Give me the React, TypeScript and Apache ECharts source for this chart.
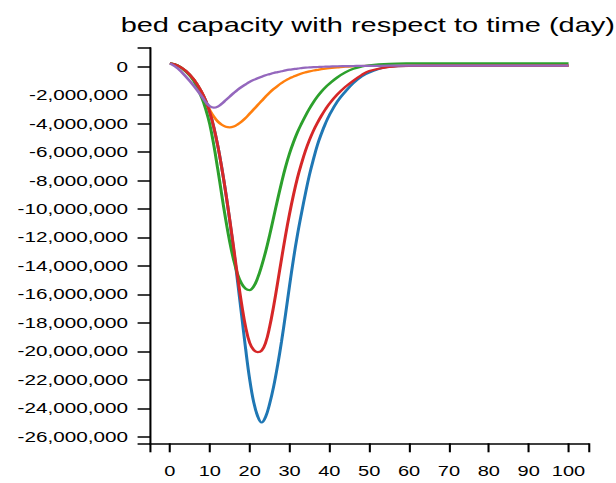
import React, { useEffect, useRef } from "react";
import * as echarts from "echarts";

// Day of simulation for each sample
const days = [
  0, 2, 4, 6, 8, 9, 10, 11, 12, 13, 14, 15, 16, 17, 18, 19, 20, 21, 22, 23, 24,
  25, 26, 27, 28, 29, 30, 31, 32, 33, 34, 35, 36, 37, 38, 39, 40, 42, 44, 46,
  48, 50, 55, 60, 70, 80, 90, 100,
];

// Remaining bed capacity, in millions of beds
const blueSeries = [
  0.24, 0.08, -0.3, -0.9, -1.8, -2.4, -3.2, -4.25, -5.55, -7.1, -8.85, -10.8,
  -12.9, -15.15, -17.5, -19.85, -21.95, -23.55, -24.55, -25.0, -24.6, -23.7,
  -22.5, -21.0, -19.3, -17.4, -15.4, -13.5, -11.8, -10.3, -8.9, -7.6, -6.5,
  -5.5, -4.7, -4.0, -3.4, -2.45, -1.75, -1.15, -0.7, -0.4, 0.0, 0.06, 0.07,
  0.07, 0.07, 0.07,
];
const orangeSeries = [
  0.24, 0.08, -0.3, -0.9, -1.8, -2.45, -3.05, -3.5, -3.85, -4.08, -4.22, -4.26,
  -4.2, -4.05, -3.85, -3.6, -3.3, -3.0, -2.7, -2.4, -2.1, -1.82, -1.57, -1.35,
  -1.15, -0.97, -0.82, -0.7, -0.58, -0.48, -0.4, -0.33, -0.27, -0.22, -0.17,
  -0.13, -0.1, -0.05, 0.0, 0.03, 0.05, 0.06, 0.07, 0.07, 0.07, 0.07, 0.07,
  0.07,
];
const greenSeries = [
  0.24, 0.08, -0.35, -1.0, -2.2, -3.0, -4.05, -5.5, -7.2, -9.0, -10.75, -12.3,
  -13.6, -14.6, -15.25, -15.6, -15.7, -15.45, -14.85, -14.0, -13.0, -11.85,
  -10.6, -9.35, -8.15, -7.05, -6.1, -5.3, -4.6, -4.0, -3.45, -2.95, -2.5, -2.1,
  -1.75, -1.45, -1.2, -0.75, -0.4, -0.15, 0.0, 0.1, 0.2, 0.23, 0.24, 0.24,
  0.24, 0.24,
];
const redSeries = [
  0.24, 0.08, -0.3, -0.9, -1.8, -2.4, -3.2, -4.25, -5.55, -7.1, -8.85, -10.75,
  -12.75, -14.8, -16.7, -18.3, -19.4, -19.9, -20.05, -19.95, -19.4, -18.3,
  -16.85, -15.2, -13.5, -11.85, -10.35, -9.0, -7.8, -6.8, -5.9, -5.15, -4.5,
  -3.95, -3.45, -3.0, -2.6, -1.95, -1.42, -0.98, -0.6, -0.3, -0.02, 0.06, 0.07,
  0.07, 0.07, 0.07,
];
const purpleSeries = [
  0.24, -0.12, -0.7, -1.35, -2.1, -2.5, -2.78, -2.88, -2.8, -2.6, -2.35, -2.1,
  -1.85, -1.62, -1.42, -1.24, -1.07, -0.93, -0.81, -0.7, -0.6, -0.52, -0.44,
  -0.38, -0.32, -0.26, -0.21, -0.17, -0.13, -0.1, -0.07, -0.05, -0.03, -0.02,
  -0.01, 0.0, 0.01, 0.03, 0.04, 0.05, 0.06, 0.06, 0.07, 0.07, 0.07, 0.07, 0.07,
  0.07,
];

const seriesValues = [blueSeries, orangeSeries, greenSeries, redSeries, purpleSeries];
const seriesColors = ["#1f77b4", "#ff7f0e", "#2ca02c", "#d62728", "#9467bd"];

// Axis ticks and labels
const xTickLabels = [0, 10, 20, 30, 40, 50, 60, 70, 80, 90, 100];
const yTickLabels = [
  0, -2e6, -4e6, -6e6, -8e6, -10e6, -12e6, -14e6, -16e6, -18e6, -20e6, -22e6,
  -24e6, -26e6,
];
const xDomain = [-5, 105];
const yDomain = [-26.46e6, 1.335e6];

const titleText = "bed capacity with respect to time (day)";

// The chart is laid out narrower and stretched horizontally
const STRETCH = 1.38;
const WIDTH = 616 / STRETCH;
const HEIGHT = 483;
const FONT = "'Liberation Sans', Arial, sans-serif";

export default function App() {
  const ref = useRef<HTMLDivElement>(null);

  useEffect(() => {
    if (!ref.current) return;
    const chart = echarts.init(ref.current, null, { renderer: "svg" });
    const fmt = (v: number) => Math.round(v).toLocaleString("en-US");

    chart.setOption({
      animation: false,
      title: {
        text: titleText,
        left: 266.5,
        top: 14,
        padding: 0,
        textAlign: "center",
        textStyle: {
          fontFamily: FONT,
          fontSize: 21,
          fontWeight: "normal",
          color: "#000",
        },
      },
      grid: {
        left: 150 / STRETCH,
        right: WIDTH - 589 / STRETCH,
        top: 47.7,
        bottom: HEIGHT - 443.3,
        containLabel: false,
      },
      xAxis: {
        type: "value",
        min: xDomain[0],
        max: xDomain[1],
        splitLine: { show: false },
        axisLine: { show: true, onZero: false, lineStyle: { color: "#000", width: 1.5 } },
        axisTick: {
          show: true,
          length: 9,
          customValues: [xDomain[0], ...xTickLabels, xDomain[1]],
          lineStyle: { color: "#000", width: 1.5 },
        },
        axisLabel: {
          customValues: xTickLabels,
          margin: 20,
          fontFamily: FONT,
          fontSize: 14.5,
          color: "#000",
          formatter: (v: number) => String(v),
        },
      },
      yAxis: {
        type: "value",
        min: yDomain[0],
        max: yDomain[1],
        splitLine: { show: false },
        axisLine: { show: true, onZero: false, lineStyle: { color: "#000", width: 1.5 } },
        axisTick: {
          show: true,
          length: 9,
          customValues: [yDomain[0], ...yTickLabels, yDomain[1]],
          lineStyle: { color: "#000", width: 1.5 },
        },
        axisLabel: {
          customValues: yTickLabels,
          margin: 16,
          fontFamily: FONT,
          fontSize: 15,
          color: "#000",
          formatter: fmt,
        },
      },
      series: seriesValues.map((vals, i) => ({
        type: "line",
        data: days.map((d, j) => [d, vals[j] * 1e6]),
        showSymbol: false,
        smooth: 0.4,
        lineStyle: { color: seriesColors[i], width: 2.2 },
        itemStyle: { color: seriesColors[i] },
        z: 2 + i,
      })),
    });

    return () => chart.dispose();
  }, []);

  return (
    <div
      ref={ref}
      style={{
        position: "fixed",
        left: 0,
        top: 0,
        width: WIDTH,
        height: HEIGHT,
        transform: `scaleX(${STRETCH})`,
        transformOrigin: "0 0",
        background: "#fff",
      }}
    />
  );
}
